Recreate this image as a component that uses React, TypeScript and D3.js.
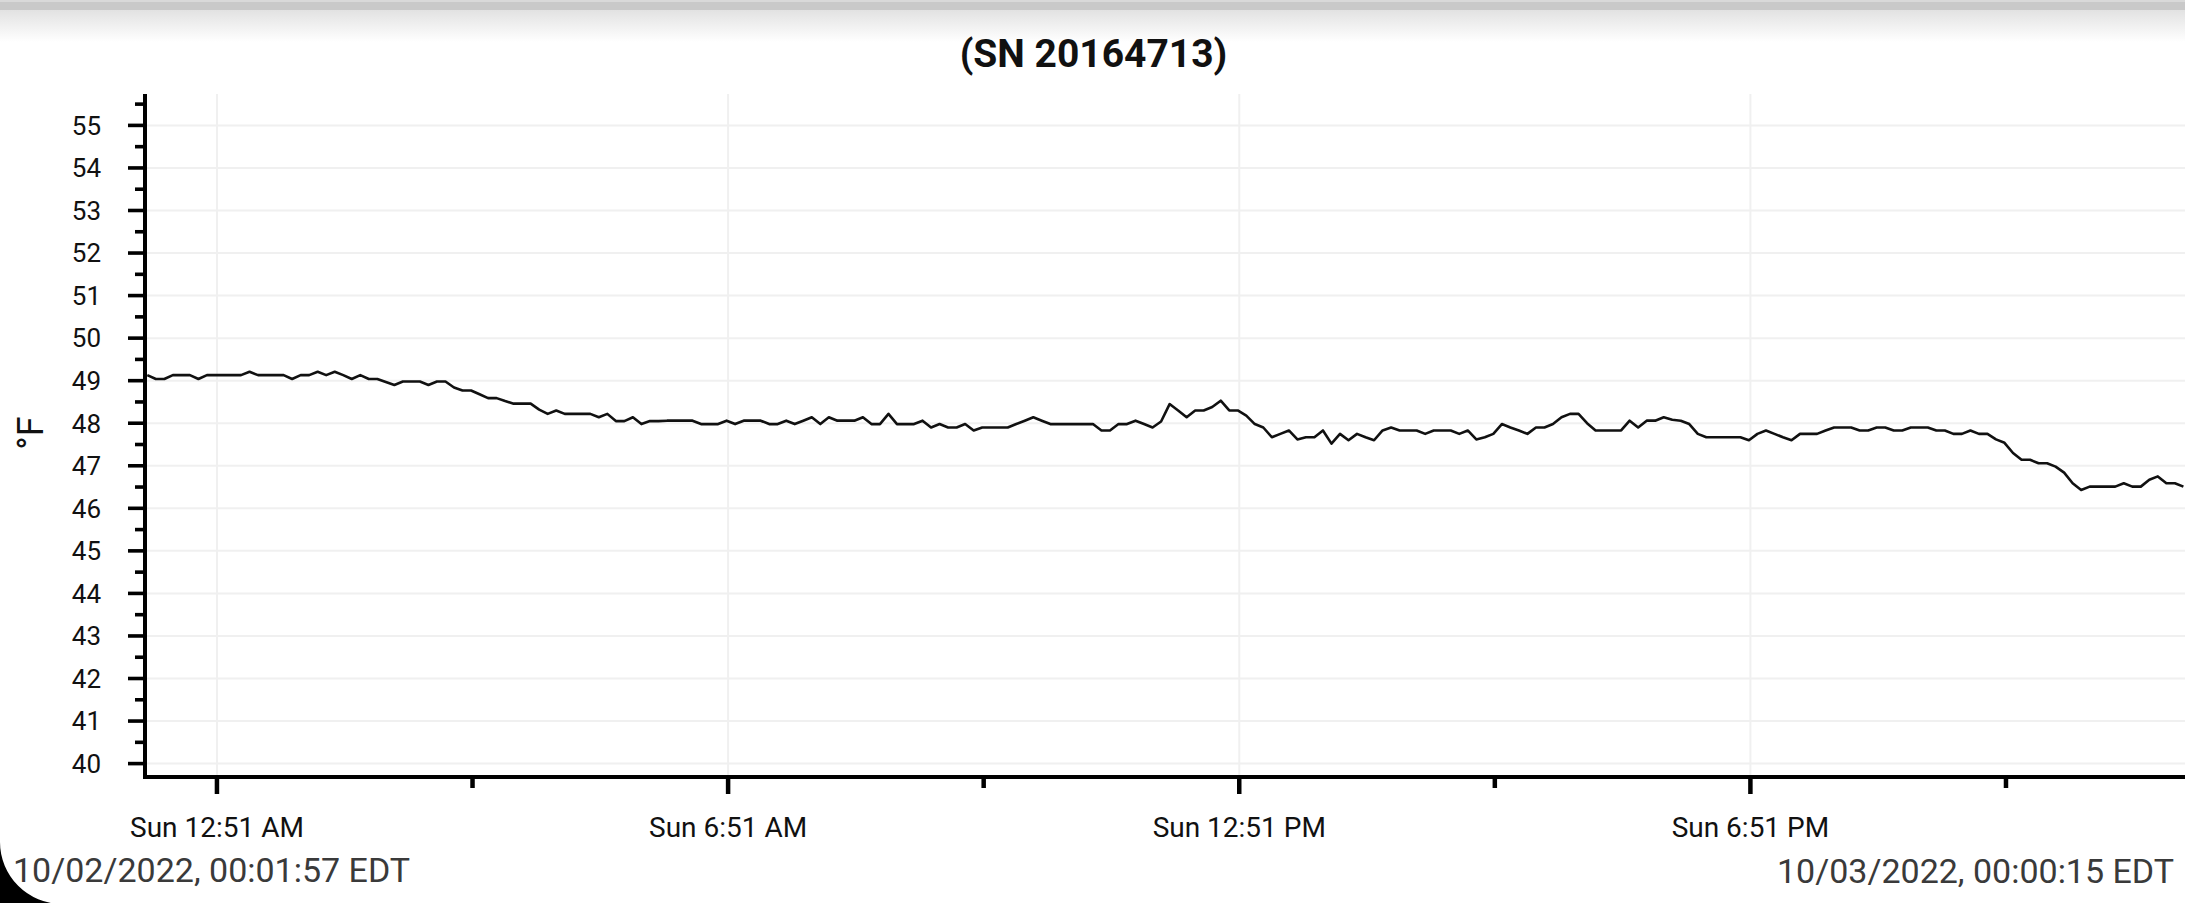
import React from "react";
import * as d3 from "d3";

// ---------- data ----------
const START = Date.UTC(2022, 9, 2, 0, 1, 57);
const END = Date.UTC(2022, 9, 3, 0, 0, 15);
const SAMPLE_MINUTES = 6;

const temperatures: number[] = [
  49.13, 49.04, 49.04, 49.13, 49.13, 49.13, 49.04, 49.13, 49.13, 49.13,
  49.13, 49.13, 49.21, 49.13, 49.13, 49.13, 49.13, 49.04, 49.13, 49.13,
  49.21, 49.13, 49.21, 49.13, 49.04, 49.13, 49.04, 49.04, 48.97, 48.9,
  48.98, 48.98, 48.98, 48.9, 48.98, 48.98, 48.84, 48.77, 48.77, 48.68,
  48.59, 48.59, 48.52, 48.46, 48.46, 48.46, 48.32, 48.22, 48.3, 48.22,
  48.22, 48.22, 48.22, 48.14, 48.22, 48.05, 48.05, 48.14, 47.98, 48.05,
  48.05,
  48.06, 48.06, 48.06, 48.06, 47.98, 47.98, 47.98, 48.06, 47.98, 48.06,
  48.06, 48.06, 47.98, 47.98, 48.06, 47.98, 48.06, 48.14, 47.98, 48.14,
  48.06, 48.06, 48.06, 48.14, 47.98, 47.98, 48.22, 47.98, 47.98, 47.98,
  48.06, 47.9, 47.98, 47.9, 47.9, 47.98, 47.83, 47.9, 47.9, 47.9,
  47.9, 47.98, 48.06, 48.14, 48.06, 47.98, 47.98, 47.98, 47.98, 47.98,
  47.98, 47.83, 47.83, 47.98, 47.98, 48.06, 47.98, 47.9, 48.04, 48.45,
  48.3, 48.14, 48.3, 48.3, 48.38, 48.53, 48.3, 48.3, 48.18, 47.98,
  47.9, 47.67, 47.75, 47.83, 47.62, 47.67, 47.67, 47.83, 47.52, 47.75,
  47.6, 47.75, 47.67, 47.6, 47.83, 47.9, 47.83, 47.83, 47.83, 47.75,
  47.83, 47.83, 47.83, 47.75, 47.83, 47.62, 47.67, 47.75, 47.98, 47.9,
  47.83, 47.75, 47.9, 47.9, 47.98, 48.14, 48.22, 48.22, 48.0, 47.83,
  47.83, 47.83, 47.83, 48.06, 47.9, 48.06, 48.06, 48.14, 48.08, 48.06,
  47.98, 47.75, 47.67, 47.67, 47.67, 47.67, 47.67, 47.6, 47.75, 47.83,
  47.75, 47.67, 47.6, 47.75, 47.75, 47.75, 47.83, 47.9, 47.9, 47.9,
  47.83, 47.83, 47.9, 47.9, 47.83, 47.83, 47.9, 47.9, 47.9, 47.83,
  47.83, 47.75, 47.75, 47.83, 47.75, 47.75, 47.62, 47.54, 47.3, 47.14,
  47.14, 47.06, 47.06, 46.98, 46.84, 46.59, 46.43, 46.51, 46.51, 46.51,
  46.51, 46.59, 46.51, 46.51, 46.67, 46.75, 46.59, 46.59, 46.51,
];

const yMajorTicks = [40, 41, 42, 43, 44, 45, 46, 47, 48, 49, 50, 51, 52, 53, 54, 55];
const yMinorTicks = [40.5, 41.5, 42.5, 43.5, 44.5, 45.5, 46.5, 47.5, 48.5, 49.5, 50.5, 51.5, 52.5, 53.5, 54.5, 55.5];

const xMajorTickTimes = [
  Date.UTC(2022, 9, 2, 0, 51),
  Date.UTC(2022, 9, 2, 6, 51),
  Date.UTC(2022, 9, 2, 12, 51),
  Date.UTC(2022, 9, 2, 18, 51),
];
const xMajorTickLabels = ["Sun 12:51 AM", "Sun 6:51 AM", "Sun 12:51 PM", "Sun 6:51 PM"];
const xMinorTickTimes = [
  Date.UTC(2022, 9, 2, 3, 51),
  Date.UTC(2022, 9, 2, 9, 51),
  Date.UTC(2022, 9, 2, 15, 51),
  Date.UTC(2022, 9, 2, 21, 51),
];

const titleText = "(SN 20164713)";
const yAxisLabel = "°F";
const startLabel = "10/02/2022, 00:01:57 EDT";
const endLabel = "10/03/2022, 00:00:15 EDT";

// ---------- layout ----------
const W = 2185;
const H = 903;
const AXIS_X = 145;
const AXIS_Y = 777;
const AXIS_TOP = 94;
const FONT = "Roboto, 'Noto Sans', sans-serif";

export default function App() {
  const x = d3.scaleUtc().domain([START, END]).range([147.3, 2189.5]);
  const y = d3.scaleLinear().domain([40, 55]).range([763.6, 125.4]);

  const points = temperatures.map((v, i) => ({
    t: START + i * SAMPLE_MINUTES * 60000,
    v,
  }));
  const line = d3
    .line<{ t: number; v: number }>()
    .x((d) => x(d.t))
    .y((d) => y(d.v));

  return (
    <div style={{ position: "fixed", left: 0, top: 0, width: W, height: H, background: "#fff" }}>
      <svg width={W} height={H} style={{ display: "block" }} fontFamily={FONT}>
        <defs>
          <linearGradient id="topShade" x1="0" y1="0" x2="0" y2="1">
            <stop offset="0" stopColor="#e2e2e2" />
            <stop offset="1" stopColor="#ffffff" />
          </linearGradient>
          <clipPath id="plotClip">
            <rect x={AXIS_X} y={AXIS_TOP} width={W - AXIS_X} height={AXIS_Y - AXIS_TOP} />
          </clipPath>
        </defs>
        <rect x={0} y={0} width={W} height={H} fill="#fff" />
        {/* top shadow */}
        <rect x={0} y={0} width={W} height={2} fill="#d9d9d9" />
        <rect x={0} y={2} width={W} height={8} fill="#c9c9c9" />
        <rect x={0} y={10} width={W} height={32} fill="url(#topShade)" />

        {/* title */}
        <text x={1093.5} y={67} textAnchor="middle" fontSize={39} fontWeight="bold" fill="#111">
          {titleText}
        </text>

        {/* grid */}
        {yMajorTicks.map((t) => (
          <line key={"gy" + t} x1={AXIS_X} x2={W} y1={y(t)} y2={y(t)} stroke="#f0f0f0" strokeWidth={2} />
        ))}
        {xMajorTickTimes.map((t) => (
          <line key={"gx" + t} x1={x(t)} x2={x(t)} y1={AXIS_TOP} y2={AXIS_Y} stroke="#f0f0f0" strokeWidth={2} />
        ))}

        {/* data line */}
        <path
          d={line(points) || ""}
          fill="none"
          stroke="#111"
          strokeWidth={2.6}
          strokeLinejoin="round"
          clipPath="url(#plotClip)"
        />

        {/* y axis */}
        <line x1={AXIS_X} x2={AXIS_X} y1={AXIS_TOP} y2={AXIS_Y + 2} stroke="#000" strokeWidth={4} />
        {yMajorTicks.map((t) => (
          <g key={"yt" + t}>
            <line x1={128} x2={AXIS_X} y1={y(t)} y2={y(t)} stroke="#000" strokeWidth={3.6} />
            <text x={101} y={y(t)} dy="0.36em" textAnchor="end" fontSize={26} fill="#111">
              {t}
            </text>
          </g>
        ))}
        {yMinorTicks.map((t) => (
          <line key={"ym" + t} x1={135} x2={AXIS_X} y1={y(t)} y2={y(t)} stroke="#000" strokeWidth={3.6} />
        ))}
        <text
          transform={`translate(43, 433) rotate(-90)`}
          textAnchor="middle"
          fontSize={36}
          fill="#111"
        >
          {yAxisLabel}
        </text>

        {/* x axis */}
        <line x1={AXIS_X - 2} x2={W} y1={AXIS_Y} y2={AXIS_Y} stroke="#000" strokeWidth={4} />
        {xMajorTickTimes.map((t, i) => (
          <g key={"xt" + t}>
            <line x1={x(t)} x2={x(t)} y1={AXIS_Y} y2={794} stroke="#000" strokeWidth={4.5} />
            <text x={x(t)} y={837} textAnchor="middle" fontSize={28} fill="#111">
              {xMajorTickLabels[i]}
            </text>
          </g>
        ))}
        {xMinorTickTimes.map((t) => (
          <line key={"xm" + t} x1={x(t)} x2={x(t)} y1={AXIS_Y} y2={788} stroke="#000" strokeWidth={4.5} />
        ))}

        {/* footer dates */}
        <text x={13} y={882} fontSize={34} fill="#3a3a3a">
          {startLabel}
        </text>
        <text x={2174} y={883} textAnchor="end" fontSize={34} fill="#3a3a3a">
          {endLabel}
        </text>

        {/* rounded screen corner */}
        <path d="M0,842 A62,62 0 0 0 62,904 L0,904 Z" fill="#000" />
      </svg>
    </div>
  );
}
